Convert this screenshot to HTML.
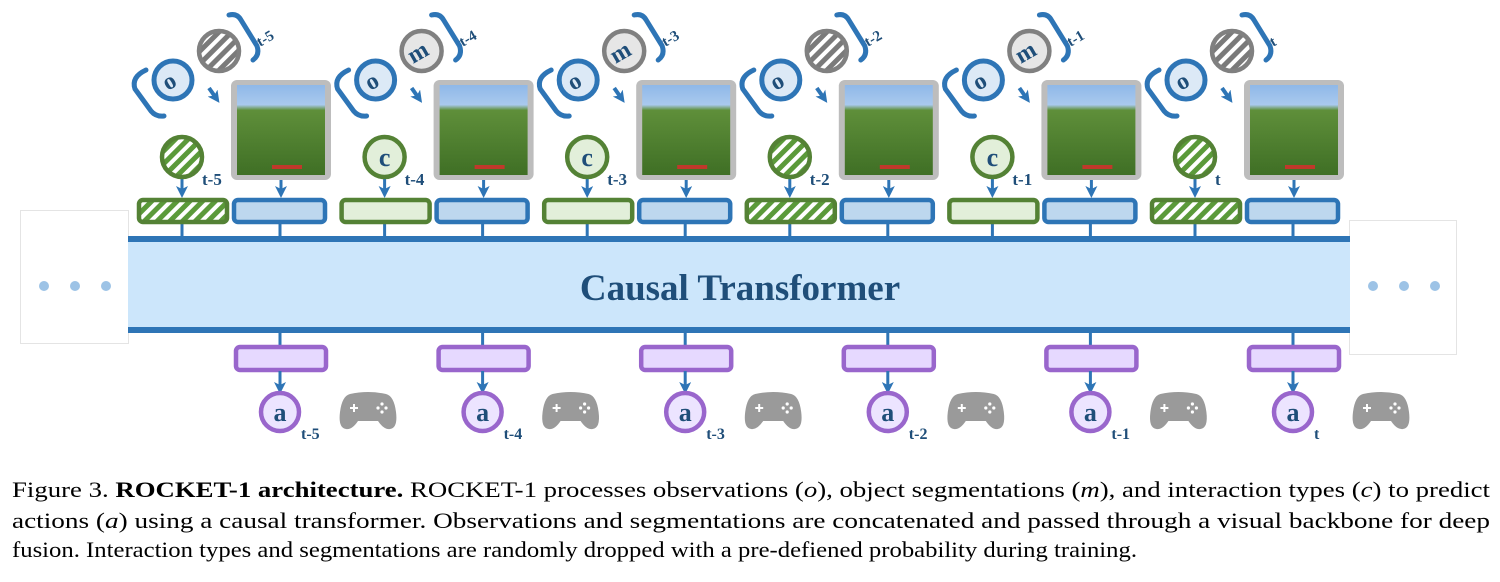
<!DOCTYPE html>
<html><head><meta charset="utf-8"><style>
html,body{margin:0;padding:0;background:#fff;width:1500px;height:582px;overflow:hidden}
svg{display:block}
.lt{font-family:"Liberation Serif",serif;font-weight:bold;fill:#1f4e79}
.cap{font-family:"Liberation Serif",serif;font-size:22px;fill:#000}
</style></head><body>
<svg width="1500" height="582" viewBox="0 0 1500 582" xmlns="http://www.w3.org/2000/svg">
<defs>
<pattern id="sg" width="9" height="9" patternUnits="userSpaceOnUse" patternTransform="rotate(45)">
<rect width="9" height="9" fill="#5b9a3a"/><rect width="4" height="9" fill="#fff"/></pattern>
<pattern id="sk" width="9" height="9" patternUnits="userSpaceOnUse" patternTransform="rotate(45)">
<rect width="9" height="9" fill="#7a7a7a"/><rect width="4" height="9" fill="#fff"/></pattern>
<marker id="ah" markerWidth="12" markerHeight="12" refX="6" refY="6" orient="auto" markerUnits="userSpaceOnUse">
<path d="M0,0 L12,6 L0,12 L3,6 Z" fill="#2e75b6"/></marker>
<linearGradient id="img" x1="0" y1="0" x2="0" y2="1">
<stop offset="0" stop-color="#8fb8e8"/><stop offset="0.22" stop-color="#a9c9ee"/><stop offset="0.28" stop-color="#5f8f3a"/><stop offset="1" stop-color="#3f6f25"/></linearGradient>
<g id="common">
<path d="M146 70 Q131 77 135 89 L151 111 Q156 117 164 116" fill="none" stroke="#2e75b6" stroke-width="5" stroke-linecap="round"/>
<path d="M229 15 Q237 13 241 20 L257 46 Q260 55 253 60" fill="none" stroke="#2e75b6" stroke-width="5" stroke-linecap="round"/>
<circle cx="173" cy="80" r="19" fill="#dce9f6" stroke="#2e75b6" stroke-width="5"/>
<line x1="209" y1="88" x2="216" y2="98" stroke="#2e75b6" stroke-width="4" marker-end="url(#ah)"/>
<rect x="231" y="80" width="100" height="100" rx="6" fill="#bdbdbd"/>
<rect x="237" y="85" width="88" height="90" fill="url(#img)"/>
<rect x="272" y="165" width="30" height="4" fill="#c0392b"/>
<line x1="182" y1="177" x2="182" y2="192" stroke="#2e75b6" stroke-width="3" marker-end="url(#ah)"/>
<line x1="281" y1="180" x2="281" y2="192" stroke="#2e75b6" stroke-width="3" marker-end="url(#ah)"/>
<rect x="234" y="200" width="91" height="22" rx="4" fill="#bdd7ee" stroke="#2e75b6" stroke-width="4.5"/>
<line x1="182" y1="223" x2="182" y2="237" stroke="#2e75b6" stroke-width="3"/>
<line x1="280" y1="223" x2="280" y2="237" stroke="#2e75b6" stroke-width="3"/>
<line x1="280" y1="333" x2="280" y2="346" stroke="#2e75b6" stroke-width="3"/>
<rect x="236" y="347" width="90" height="23" rx="4" fill="#e6d9ff" stroke="#9966cc" stroke-width="4.5"/>
<line x1="280" y1="371" x2="280" y2="388" stroke="#2e75b6" stroke-width="3" marker-end="url(#ah)"/>
<circle cx="280" cy="412" r="19" fill="#ece4ff" stroke="#9966cc" stroke-width="4.5"/>
<path d="M350 394 Q368 390 386 394 Q394 396 396 412 Q398 428 390 429 Q384 430 378 421 L358 421 Q352 430 346 429 Q338 428 340 412 Q342 396 350 394 Z" fill="#9a9a9a"/>
<path d="M350 408 h8 M354 404 v8" stroke="#fff" stroke-width="2"/>
<circle cx="382" cy="404" r="1.6" fill="#fff"/><circle cx="382" cy="412" r="1.6" fill="#fff"/><circle cx="378" cy="408" r="1.6" fill="#fff"/><circle cx="386" cy="408" r="1.6" fill="#fff"/>
</g>
<g id="strip">
<circle cx="219" cy="51" r="20" fill="url(#sk)" stroke="#808080" stroke-width="4.5"/>
<circle cx="182" cy="157" r="20" fill="url(#sg)" stroke="#548235" stroke-width="4.5"/>
<rect x="139" y="200" width="88" height="22" rx="4" fill="url(#sg)" stroke="#548235" stroke-width="4.5"/>
</g>
<g id="full">
<circle cx="219" cy="51" r="20" fill="#e6e6e6" stroke="#808080" stroke-width="4.5"/>
<circle cx="182" cy="157" r="20" fill="#e2efda" stroke="#548235" stroke-width="4.5"/>
<rect x="139" y="200" width="88" height="22" rx="4" fill="#e2efda" stroke="#548235" stroke-width="4.5"/>
</g>
</defs>

<rect x="20.5" y="210.5" width="108" height="133" fill="#fff" stroke="#e4e4e4"/>
<circle cx="44" cy="286" r="5" fill="#9dc3e6"/><circle cx="75" cy="286" r="5" fill="#9dc3e6"/><circle cx="106" cy="286" r="5" fill="#9dc3e6"/>
<rect x="1349.5" y="220.5" width="107" height="134" fill="#fff" stroke="#e4e4e4"/>
<circle cx="1373" cy="286" r="5" fill="#9dc3e6"/><circle cx="1404" cy="286" r="5" fill="#9dc3e6"/><circle cx="1435" cy="286" r="5" fill="#9dc3e6"/>

<rect x="128" y="236" width="1222" height="97" fill="#cce6fb"/>
<rect x="128" y="236" width="1222" height="6" fill="#2e75b6"/>
<rect x="128" y="327" width="1222" height="6" fill="#2e75b6"/>
<text x="740" y="300" text-anchor="middle" class="lt" font-size="37">Causal Transformer</text>

<g transform="translate(0,0)"><use href="#common"/><use href="#strip"/>
<text class="lt" font-size="24" transform="translate(173,88) rotate(-30)" text-anchor="middle">o</text>
<text class="lt" font-size="15" transform="translate(260,47) rotate(-30)">t-5</text>
<text class="lt" font-size="17" x="202" y="185">t-5</text>
<text class="lt" font-size="26" x="280" y="421" text-anchor="middle">a</text>
<text class="lt" font-size="16" x="301" y="439">t-5</text></g>

<g transform="translate(202.6,0)"><use href="#common"/><use href="#full"/>
<text class="lt" font-size="24" transform="translate(173,88) rotate(-30)" text-anchor="middle">o</text>
<text class="lt" font-size="24" transform="translate(219,59) rotate(-30)" text-anchor="middle">m</text>
<text class="lt" font-size="26" x="182" y="166" text-anchor="middle">c</text>
<text class="lt" font-size="15" transform="translate(260,47) rotate(-30)">t-4</text>
<text class="lt" font-size="17" x="202" y="185">t-4</text>
<text class="lt" font-size="26" x="280" y="421" text-anchor="middle">a</text>
<text class="lt" font-size="16" x="301" y="439">t-4</text></g>

<g transform="translate(405.2,0)"><use href="#common"/><use href="#full"/>
<text class="lt" font-size="24" transform="translate(173,88) rotate(-30)" text-anchor="middle">o</text>
<text class="lt" font-size="24" transform="translate(219,59) rotate(-30)" text-anchor="middle">m</text>
<text class="lt" font-size="26" x="182" y="166" text-anchor="middle">c</text>
<text class="lt" font-size="15" transform="translate(260,47) rotate(-30)">t-3</text>
<text class="lt" font-size="17" x="202" y="185">t-3</text>
<text class="lt" font-size="26" x="280" y="421" text-anchor="middle">a</text>
<text class="lt" font-size="16" x="301" y="439">t-3</text></g>

<g transform="translate(607.8,0)"><use href="#common"/><use href="#strip"/>
<text class="lt" font-size="24" transform="translate(173,88) rotate(-30)" text-anchor="middle">o</text>
<text class="lt" font-size="15" transform="translate(260,47) rotate(-30)">t-2</text>
<text class="lt" font-size="17" x="202" y="185">t-2</text>
<text class="lt" font-size="26" x="280" y="421" text-anchor="middle">a</text>
<text class="lt" font-size="16" x="301" y="439">t-2</text></g>

<g transform="translate(810.4,0)"><use href="#common"/><use href="#full"/>
<text class="lt" font-size="24" transform="translate(173,88) rotate(-30)" text-anchor="middle">o</text>
<text class="lt" font-size="24" transform="translate(219,59) rotate(-30)" text-anchor="middle">m</text>
<text class="lt" font-size="26" x="182" y="166" text-anchor="middle">c</text>
<text class="lt" font-size="15" transform="translate(260,47) rotate(-30)">t-1</text>
<text class="lt" font-size="17" x="202" y="185">t-1</text>
<text class="lt" font-size="26" x="280" y="421" text-anchor="middle">a</text>
<text class="lt" font-size="16" x="301" y="439">t-1</text></g>

<g transform="translate(1013,0)"><use href="#common"/><use href="#strip"/>
<text class="lt" font-size="24" transform="translate(173,88) rotate(-30)" text-anchor="middle">o</text>
<text class="lt" font-size="15" transform="translate(260,47) rotate(-30)">t</text>
<text class="lt" font-size="17" x="202" y="185">t</text>
<text class="lt" font-size="26" x="280" y="421" text-anchor="middle">a</text>
<text class="lt" font-size="16" x="301" y="439">t</text></g>

<text class="cap" x="12" y="497" textLength="1478" lengthAdjust="spacingAndGlyphs">Figure 3. <tspan font-weight="bold">ROCKET-1 architecture.</tspan> ROCKET-1 processes observations (<tspan font-style="italic">o</tspan>), object segmentations (<tspan font-style="italic">m</tspan>), and interaction types (<tspan font-style="italic">c</tspan>) to predict</text>
<text class="cap" x="12" y="528" textLength="1478" lengthAdjust="spacingAndGlyphs">actions (<tspan font-style="italic">a</tspan>) using a causal transformer. Observations and segmentations are concatenated and passed through a visual backbone for deep</text>
<text class="cap" x="12" y="557" textLength="1125" lengthAdjust="spacingAndGlyphs">fusion. Interaction types and segmentations are randomly dropped with a pre-defiened probability during training.</text>
</svg>
</body></html>
